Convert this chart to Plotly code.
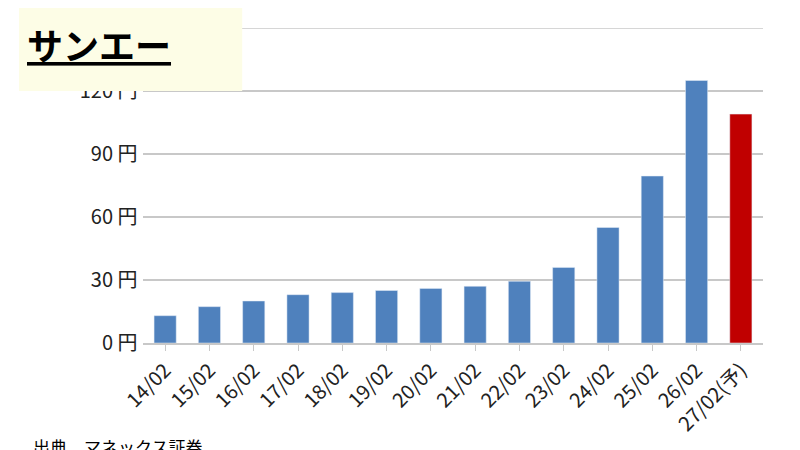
import plotly.graph_objects as go

dates = ["14/02", "15/02", "16/02", "17/02", "18/02", "19/02", "20/02",
         "21/02", "22/02", "23/02", "24/02", "25/02", "26/02", "27/02(予)"]
eps = [13, 17.3, 20, 23, 24, 25, 26, 27, 29.4, 36, 55, 79.5, 125, 109]
colors = ["#4f81bd"] * 13 + ["#c00000"]

fig = go.Figure(go.Bar(x=dates, y=eps, marker_color=colors, width=0.5))

fig.update_layout(
    width=800, height=450,
    margin=dict(l=135, r=45, t=20, b=115, autoexpand=False),
    plot_bgcolor="white", paper_bgcolor="white",
    font=dict(family="Noto Sans CJK JP", color="#222"),
    showlegend=False,
    yaxis=dict(range=[0, 150], tickvals=[0, 30, 60, 90, 120],
               ticktext=["0 円 ", "30 円 ", "60 円 ", "90 円 ", "120 円 "],
               gridcolor="#c8c8c8", gridwidth=1.5, zeroline=False,
               tickfont=dict(size=20), ticks="", automargin=False),
    xaxis=dict(tickangle=-45, tickfont=dict(size=20), showline=True,
               linecolor="#c8c8c8", linewidth=1.5, ticks="outside",
               tickcolor="#c8c8c8", ticklen=6, automargin=False),
    shapes=[
        dict(type="line", xref="paper", yref="y", x0=0, x1=1, y0=150, y1=150,
             line=dict(color="#c8c8c8", width=1.5)),
        dict(type="rect", xref="paper", yref="paper", x0=-0.2, x1=0.16,
             y0=0.8, y1=1.065, fillcolor="#fdfde6", line_width=0, layer="above"),
    ],
    annotations=[
        dict(text="<b><u>サンエー</u></b>", xref="paper", yref="paper", x=-0.19, y=0.95,
             xanchor="left", yanchor="middle", showarrow=False,
             font=dict(size=36, color="black")),
        dict(text="出典　マネックス証券", xref="paper", yref="paper", x=-0.18, y=-0.33,
             xanchor="left", yanchor="middle", showarrow=False,
             font=dict(size=17, color="black")),
    ],
)

fig.write_html("out.html")
